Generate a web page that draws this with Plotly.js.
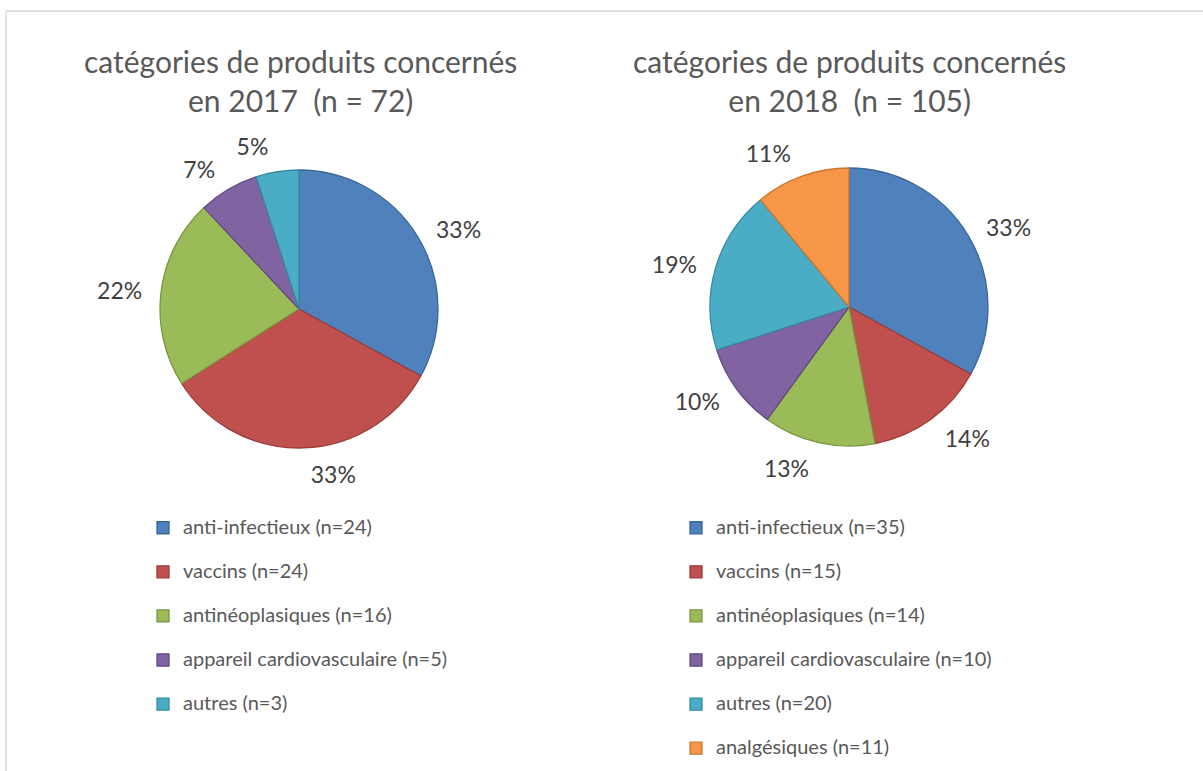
<!DOCTYPE html>
<html>
<head>
<meta charset="utf-8">
<script src="https://cdn.plot.ly/plotly-3.0.1.min.js"></script>
<style>html,body{margin:0;padding:0;background:#fff;}#chart{width:1203px;height:771px;}</style>
</head>
<body>
<div id="chart"></div>
<script>
// Data
const categories2017 = ["anti-infectieux (n=24)", "vaccins (n=24)", "antinéoplasiques (n=16)", "appareil cardiovasculaire (n=5)", "autres (n=3)"];
const percent2017 = [33, 33, 22, 7, 5];
const categories2018 = ["anti-infectieux (n=35)", "vaccins (n=15)", "antinéoplasiques (n=14)", "appareil cardiovasculaire (n=10)", "autres (n=20)", "analgésiques (n=11)"];
const percent2018 = [33, 14, 13, 10, 19, 11];
const title2017 = "catégories de produits concernés<br>en 2017  (n = 72)";
const title2018 = "catégories de produits concernés<br>en 2018  (n = 105)";

const fills = ["#4F81BD", "#C0504D", "#9BBB59", "#8064A2", "#4BACC6", "#F79646"];
const edges = ["#3A6699", "#9B3B38", "#7A9640", "#634B82", "#358BA2", "#C8782F"];
const FONT = "Lato, 'Open Sans', sans-serif";
const W = 1203, H = 771;
const px = v => v / W, py = v => 1 - v / H;

function dom(cx, cy, r) {
  return {x: [px(cx - r), px(cx + r)], y: [py(cy + r), py(cy - r)]};
}

// visible pie (no text), legend entries
function pieTrace(labels, values, cx, cy, legendId) {
  return {
    type: "pie",
    labels: labels.map(l => "<span style=\"font-size:20px\">" + l + "</span><br>&nbsp;"),
    values: values,
    sort: false,
    direction: "clockwise",
    rotation: 0,
    textposition: "none",
    marker: {colors: fills.slice(0, values.length), line: {color: edges.slice(0, values.length), width: 1.3}},
    domain: dom(cx, cy, 139),
    hoverinfo: "label+percent",
    legend: legendId,
    automargin: false
  };
}

// transparent companion pie carrying the percentage labels slightly further out
function labelTrace(labels, values, cx, cy, shown) {
  return {
    type: "pie",
    labels: labels,
    values: values,
    sort: false,
    direction: "clockwise",
    rotation: 0,
    textposition: values.map((v, i) => shown(i) ? "outside" : "none"),
    texttemplate: "%{value}%",
    textfont: {family: FONT, size: 23, color: "#404040"},
    marker: {colors: values.map(() => "rgba(0,0,0,0)"), line: {width: 0}},
    domain: dom(cx, cy, 151),
    showlegend: false,
    hoverinfo: "skip",
    automargin: false
  };
}

const data = [
  pieTrace(categories2017, percent2017, 299, 309, "legend"),
  pieTrace(categories2018, percent2018, 849, 307, "legend2"),
  labelTrace(categories2017, percent2017, 299, 309, i => i !== 4),
  labelTrace(categories2017, percent2017, 299, 309, i => i === 4),
  labelTrace(categories2018, percent2018, 849, 307, () => true)
];

const legendCommon = {
  font: {family: FONT, size: 15.8, color: "#595959"},
  valign: "top",
  bgcolor: "rgba(0,0,0,0)",
  xanchor: "left", yanchor: "top",
  itemclick: false, itemdoubleclick: false
};

const layout = {
  width: W, height: H,
  margin: {l: 0, r: 0, t: 0, b: 0, autoexpand: false},
  paper_bgcolor: "#ffffff",
  showlegend: true,
  legend: Object.assign({x: px(143), y: py(511)}, legendCommon),
  legend2: Object.assign({x: px(676), y: py(511)}, legendCommon),
  annotations: [
    {text: title2017, x: px(300), y: py(81), xref: "paper", yref: "paper", xanchor: "center", yanchor: "middle", showarrow: false,
     font: {family: FONT, size: 30, color: "#595959"}, align: "center"},
    {text: title2018, x: px(849), y: py(81), xref: "paper", yref: "paper", xanchor: "center", yanchor: "middle", showarrow: false,
     font: {family: FONT, size: 30, color: "#595959"}, align: "center"}
  ],
  shapes: [
    {type: "line", xref: "paper", yref: "paper", x0: px(6), x1: 1.01, y0: py(11), y1: py(11), line: {color: "#D9D9D9", width: 1.5}},
    {type: "line", xref: "paper", yref: "paper", x0: px(6), x1: px(6), y0: py(11), y1: -0.01, line: {color: "#D9D9D9", width: 1.5}}
  ]
};

Plotly.newPlot("chart", data, layout, {staticPlot: true, displayModeBar: false});
</script>
</body>
</html>
